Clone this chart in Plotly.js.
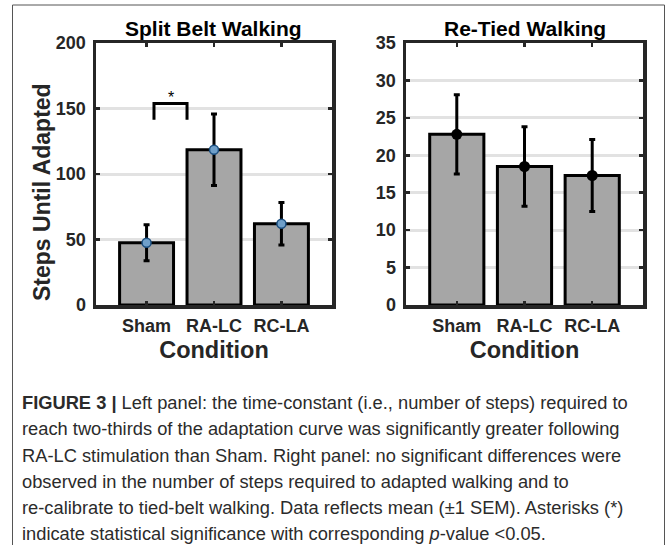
<!DOCTYPE html>
<html>
<head>
<meta charset="utf-8">
<script src="https://cdn.plot.ly/plotly-3.0.1.min.js"></script>
<style>html,body{margin:0;padding:0;background:#fff;}#chart{width:666px;height:545px;}</style>
</head>
<body>
<div id="chart"></div>
<script>
// ---- data ----
const categories = ['Sham', 'RA-LC', 'RC-LA'];
const splitMean = [47.5, 118.5, 62];
const splitSEM = [13.8, 27.3, 16.2];
const tiedMean = [22.8, 18.5, 17.3];
const tiedSEM = [5.3, 5.3, 4.8];
const splitTicks = [0, 50, 100, 150, 200];
const tiedTicks = [0, 5, 10, 15, 20, 25, 30, 35];
const panelTitles = ['Split Belt Walking', 'Re-Tied Walking'];
const yTitle = 'Steps Until Adapted';
const xTitle = 'Condition';
// significance bracket between Sham and RA-LC (category units / data units)
const sigBracketX = [0.11, 0.6];
const sigBracketY = [141.5, 153.8];
const sigLabel = '*';
const captionLines = [
  '<b>FIGURE 3 | </b>Left panel: the time-constant (i.e., number of steps) required to',
  'reach two-thirds of the adaptation curve was significantly greater following',
  'RA-LC stimulation than Sham. Right panel: no significant differences were',
  'observed in the number of steps required to adapted walking and to',
  're-calibrate to tied-belt walking. Data reflects mean (±1 SEM). Asterisks (*)',
  'indicate statistical significance with corresponding <i>p</i>-value <0.05.'
];

const W = 666, H = 545;
const FONT = 'Liberation Sans, Arial, sans-serif';
const frame = '#262626';

function barTrace(y, xa, ya) {
  return {type: 'bar', x: categories, y: y, xaxis: xa, yaxis: ya, width: 0.8,
    marker: {color: '#a6a6a6', line: {color: '#000', width: 3}}, hoverinfo: 'skip', showlegend: false};
}
function pointTrace(y, err, xa, ya, mk) {
  return {type: 'scatter', mode: 'markers', x: categories, y: y, xaxis: xa, yaxis: ya,
    error_y: {type: 'data', array: err, visible: true, color: '#000', thickness: 3, width: 3},
    marker: mk, showlegend: false, hoverinfo: 'skip'};
}

const data = [
  barTrace(splitMean, 'x', 'y'),
  pointTrace(splitMean, splitSEM, 'x', 'y', {symbol: 'circle', size: 9, color: '#6f9fc9', line: {color: '#1b4f80', width: 1.5}}),
  barTrace(tiedMean, 'x2', 'y2'),
  pointTrace(tiedMean, tiedSEM, 'x2', 'y2', {symbol: 'circle', size: 11, color: '#000', line: {color: '#000', width: 0}})
];

const yDom = [(H - 305) / H, (H - 43) / H];
function xAxis(dom, anchor, withTitle) {
  return {domain: dom, anchor: anchor, type: 'category', range: [-0.75, 2.75],
    showline: true, linewidth: 3.5, linecolor: frame, mirror: 'ticks',
    ticks: 'inside', ticklen: 4, tickwidth: 2.5, tickcolor: frame,
    showgrid: false, zeroline: false, ticklabelstandoff: 2,
    tickfont: {family: FONT, size: 18, color: '#262626', weight: 'bold'},
    title: {text: withTitle ? '<b>' + xTitle + '</b>' : '', standoff: 7,
      font: {family: FONT, size: 23.5, color: '#262626'}},
    fixedrange: true};
}
function yAxis(dom, anchor, range, ticks) {
  return {domain: dom, anchor: anchor, range: range, tickvals: ticks,
    showline: true, linewidth: 3.5, linecolor: frame, mirror: 'ticks',
    ticks: 'inside', ticklen: 4, tickwidth: 2.5, tickcolor: frame,
    showgrid: true, gridcolor: '#e2e2e2', gridwidth: 3, zeroline: false,
    ticklabelstandoff: 3,
    tickfont: {family: FONT, size: 18, color: '#262626', weight: 'bold'},
    fixedrange: true};
}

const annotations = [
  {xref: 'paper', yref: 'paper', x: (96 + 332) / 2 / W, y: 1 - 28 / H, xanchor: 'center', yanchor: 'middle',
   text: '<b>' + panelTitles[0] + '</b>', showarrow: false, font: {family: FONT, size: 21, color: '#000'}},
  {xref: 'paper', yref: 'paper', x: (406 + 643) / 2 / W, y: 1 - 28 / H, xanchor: 'center', yanchor: 'middle',
   text: '<b>' + panelTitles[1] + '</b>', showarrow: false, font: {family: FONT, size: 21, color: '#000'}},
  {xref: 'paper', yref: 'paper', x: 42 / W, y: 1 - 192 / H, xanchor: 'center', yanchor: 'middle', textangle: -90,
   text: '<b>' + yTitle + '</b>', showarrow: false, font: {family: FONT, size: 23, color: '#262626'}},
  {xref: 'x', yref: 'y', x: (sigBracketX[0] + sigBracketX[1]) / 2, y: sigBracketY[1], yshift: 6,
   text: sigLabel, showarrow: false, font: {family: FONT, size: 16, color: '#000'}}
];
const capY = [402, 428.5, 455, 481, 507, 533];
captionLines.forEach(function (t, i) {
  annotations.push({xref: 'paper', yref: 'paper', x: 20 / W, y: 1 - capY[i] / H,
    xanchor: 'left', yanchor: 'middle', text: t, showarrow: false, align: 'left',
    font: {family: FONT, size: 18.3, color: '#2b2b2b'}});
});

const shapes = [
  // significance bracket
  {type: 'path', xref: 'x', yref: 'y',
   path: 'M ' + sigBracketX[0] + ' ' + sigBracketY[0] + ' L ' + sigBracketX[0] + ' ' + sigBracketY[1] +
         ' L ' + sigBracketX[1] + ' ' + sigBracketY[1] + ' L ' + sigBracketX[1] + ' ' + sigBracketY[0],
   line: {color: '#000', width: 3}},
  // figure frame
  {type: 'line', xref: 'paper', yref: 'paper', x0: 12.5 / W, x1: 12.5 / W, y0: 0, y1: 1 - 5 / H, line: {color: '#555', width: 1}},
  {type: 'line', xref: 'paper', yref: 'paper', x0: 12.5 / W, x1: 664.5 / W, y0: 1 - 5 / H, y1: 1 - 5 / H, line: {color: '#555', width: 1}},
  {type: 'line', xref: 'paper', yref: 'paper', x0: 664.5 / W, x1: 664.5 / W, y0: 0, y1: 1 - 5 / H, line: {color: '#555', width: 1}}
];

const layout = {
  width: W, height: H, margin: {l: 0, r: 0, t: 0, b: 0},
  paper_bgcolor: '#fff', plot_bgcolor: '#fff', showlegend: false, bargap: 0.2,
  xaxis: xAxis([96 / W, 332 / W], 'y', true),
  yaxis: yAxis(yDom, 'x', [0, 200], splitTicks),
  xaxis2: xAxis([406 / W, 643 / W], 'y2', true),
  yaxis2: yAxis(yDom, 'x2', [0, 35], tiedTicks),
  annotations: annotations, shapes: shapes
};
Plotly.newPlot('chart', data, layout, {staticPlot: true, displayModeBar: false});
</script>
</body>
</html>
